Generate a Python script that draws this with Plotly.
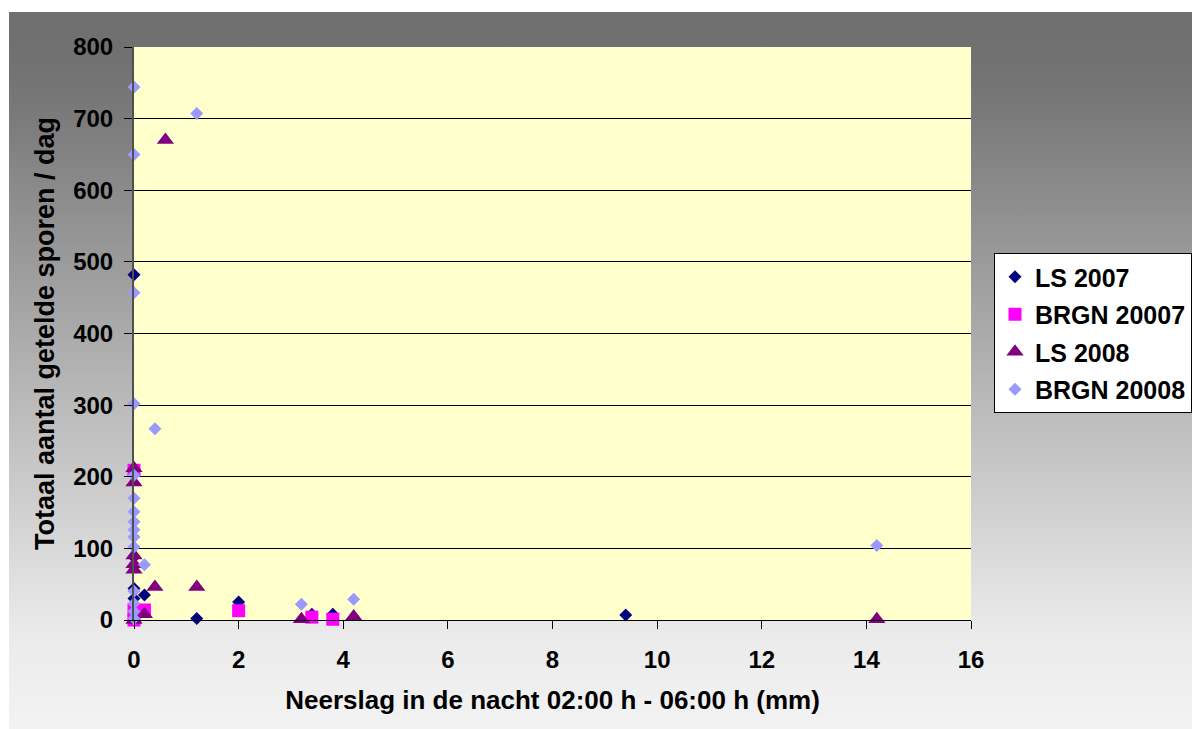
import base64
import plotly.graph_objects as go

# ---- data ----
ls2007_x = [0, 0, 0, 0, 0, 0.2, 1.2, 2.0, 3.4, 3.8, 9.4]
ls2007_y = [482, 88, 44, 30, 2, 35, 2, 25, 8, 8, 7]

brgn2007_x = [0, 0, 0, 0.2, 2.0, 3.4, 3.8]
brgn2007_y = [209, 14, 0, 14, 13, 4, 1]

ls2008_x = [0, 0, 0, 0, 0, 0, 0.2, 0.4, 0.6, 1.2, 3.2, 4.2, 14.2]
ls2008_y = [212, 192, 90, 78, 70, 0, 8, 46, 670, 46, 1, 5, 1]

brgn2008_x = [0, 0, 0, 0, 0, 0, 0, 0, 0, 0, 0, 0, 0, 0, 0,
              0.2, 0.4, 1.2, 3.2, 4.2, 14.2]
brgn2008_y = [744, 650, 457, 302, 202, 170, 151, 137, 126, 116, 102, 40, 23, 12, 2,
              77, 267, 707, 22, 29, 104]

series_names = ["LS 2007", "BRGN 20007", "LS 2008", "BRGN 20008"]
x_ticks = [0, 2, 4, 6, 8, 10, 12, 14, 16]
y_ticks = [0, 100, 200, 300, 400, 500, 600, 700, 800]

x_title = "Neerslag in de nacht 02:00 h - 06:00 h (mm)"
y_title = "Totaal aantal getelde sporen / dag"

# ---- styling ----
FONT = "Liberation Sans, Arial, sans-serif"
W, H = 1192, 729
ML, MR, MT, MB = 134, 221, 47, 109
PW, PH = W - ML - MR, H - MT - MB


def px_x(p):
    return (p - ML) / PW


def px_y(p):
    return (H - MB - p) / PH


# gradient background as an SVG image
top_px, bot_px = 12, 735
stops = [(12, 111), (60, 113), (100, 119), (200, 141), (300, 163), (400, 185),
         (500, 206), (600, 228), (640, 235), (735, 243)]
stop_xml = "".join(
    f'<stop offset="{(p - top_px) / (bot_px - top_px):.4f}" stop-color="rgb({g},{g},{g})"/>'
    for p, g in stops)
svg = (f'<svg xmlns="http://www.w3.org/2000/svg" width="100" height="100" preserveAspectRatio="none">'
       f'<defs><linearGradient id="g" x1="0" y1="0" x2="0" y2="1">{stop_xml}</linearGradient></defs>'
       f'<rect x="0" y="0" width="100" height="100" fill="url(#g)"/></svg>')
svg_uri = "data:image/svg+xml;base64," + base64.b64encode(svg.encode()).decode()

fig = go.Figure()

styles = [
    dict(symbol="diamond", color="#000080", size=10),
    dict(symbol="square", color="#FF00FF", size=13),
    dict(symbol="triangle-up", color="#800080", size=15),
    dict(symbol="diamond", color="#9999FF", size=10),
]
xs = [ls2007_x, brgn2007_x, ls2008_x, brgn2008_x]
ys = [ls2007_y, brgn2007_y, ls2008_y, brgn2008_y]

for i, (name, x, y, st) in enumerate(zip(series_names, xs, ys, styles)):
    fig.add_trace(go.Scatter(
        x=x, y=y, mode="markers", name=name, cliponaxis=False,
        legendgroup=f"g{i}",
        marker=dict(symbol=st["symbol"], color=st["color"], size=st["size"],
                    line=dict(width=0)),
    ))

fig.update_layout(
    width=W, height=H,
    margin=dict(l=ML, r=MR, t=MT, b=MB, autoexpand=False),
    paper_bgcolor="white",
    plot_bgcolor="#FFFFCC",
    font=dict(family=FONT, size=24, color="black", weight="bold"),
    showlegend=True,
    legend=dict(
        x=px_x(994), y=px_y(333), xanchor="left", yanchor="middle",
        bgcolor="white", bordercolor="black", borderwidth=1,
        font=dict(family=FONT, size=25, color="black", weight="bold"),
        itemwidth=30, tracegroupgap=2,
    ),
    images=[dict(
        source=svg_uri, xref="paper", yref="paper",
        x=px_x(9), y=px_y(top_px), sizex=px_x(1200) - px_x(9),
        sizey=px_y(top_px) - px_y(bot_px),
        xanchor="left", yanchor="top", sizing="stretch", layer="below",
    )],
    shapes=[dict(
        type="rect", xref="paper", yref="paper", x0=0, x1=1, y0=0, y1=1,
        fillcolor="#FFFFCC", line=dict(width=0), layer="below",
    )],
)

fig.update_xaxes(
    range=[0, 16], tickvals=x_ticks, ticktext=[str(v) for v in x_ticks],
    showgrid=False, zeroline=False,
    showline=True, linecolor="black", linewidth=1,
    ticks="outside", ticklen=8, tickcolor="black", tickwidth=1,
    ticklabelstandoff=10,
    tickfont=dict(family=FONT, size=24, color="black", weight="bold"),
    title=dict(text=x_title, standoff=19,
               font=dict(family=FONT, size=26, color="black", weight="bold")),
)
fig.update_yaxes(
    range=[0, 800], tickvals=y_ticks, ticktext=[str(v) for v in y_ticks],
    showgrid=True, gridcolor="black", gridwidth=1, zeroline=False,
    showline=True, linecolor="#505050", linewidth=2,
    ticks="outside", ticklen=8, tickcolor="black", tickwidth=1,
    ticklabelstandoff=6,
    tickfont=dict(family=FONT, size=24, color="black", weight="bold"),
    title=dict(text=y_title, standoff=11,
               font=dict(family=FONT, size=27, color="black", weight="bold")),
)

fig.write_html(
    "out.html",
    config={"displayModeBar": False},
    post_script="document.body.style.margin='0';document.body.style.padding='0';",
)
